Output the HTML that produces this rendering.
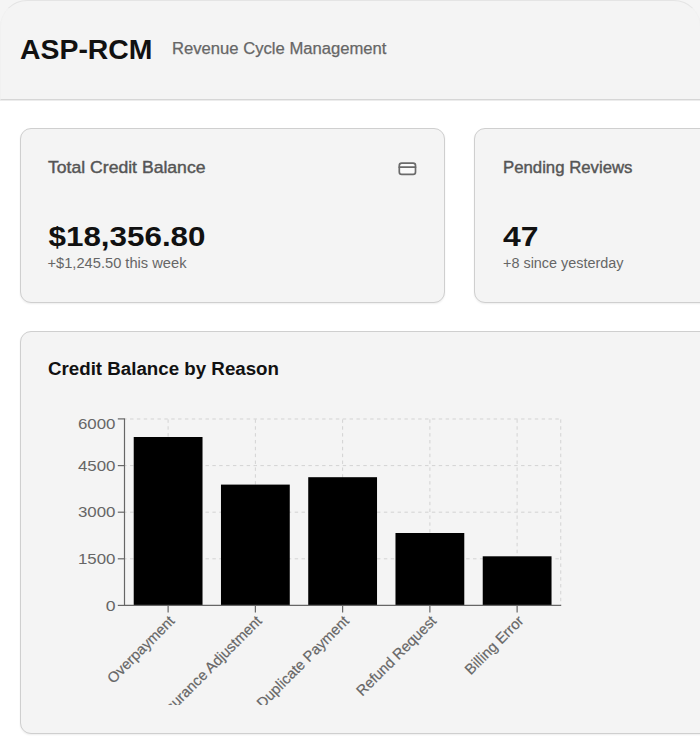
<!DOCTYPE html>
<html>
<head>
<meta charset="utf-8">
<style>
html,body{margin:0;padding:0;}
body{width:700px;height:743px;overflow:hidden;background:#ffffff;position:relative;font-family:"Liberation Sans",sans-serif;}
.topbg{position:absolute;left:0;top:0;width:700px;height:99px;background:#f5f5f5;}
.header{position:absolute;left:0;top:0;width:701px;height:100px;box-sizing:border-box;background:#f4f4f4;border-top:1px solid #e4e4e4;border-left:1px solid #f1f1f1;border-right:1px solid #f1f1f1;border-bottom:1px solid #d6d6d6;border-radius:27px 27px 0 0;box-shadow:0 1px 0 #ececec;}
.card{position:absolute;box-sizing:border-box;background:#f4f4f4;border:1px solid #cfcfcf;border-radius:11px;box-shadow:0 1px 2px rgba(0,0,0,0.07);}
svg{position:absolute;left:0;top:0;}
</style>
</head>
<body>
<div class="topbg"></div><div class="header"></div>
<div class="card" style="left:20px;top:128px;width:425px;height:175px;"></div>
<div class="card" style="left:474px;top:128px;width:425px;height:175px;"></div>
<div class="card" style="left:20px;top:331px;width:900px;height:403px;"></div>
<svg width="700" height="743" viewBox="0 0 700 743" font-family="Liberation Sans">
  <defs><clipPath id="cp"><rect x="0" y="0" width="700" height="705"/></clipPath></defs>
  <text id="title" x="20.0" y="59.2" font-size="27.5" font-weight="bold" fill="#111" text-anchor="start" textLength="132.5" lengthAdjust="spacingAndGlyphs">ASP-RCM</text><text id="sub" x="172.0" y="54.0" font-size="16" font-weight="normal" fill="#666" stroke="#666" stroke-width="0.25" text-anchor="start" textLength="214.5" lengthAdjust="spacingAndGlyphs">Revenue Cycle Management</text><text id="l1" x="48.0" y="172.5" font-size="16.3" font-weight="normal" fill="#555" stroke="#555" stroke-width="0.4" text-anchor="start" textLength="157.5" lengthAdjust="spacingAndGlyphs">Total Credit Balance</text><text id="l2" x="503.0" y="172.8" font-size="16.3" font-weight="normal" fill="#555" stroke="#555" stroke-width="0.4" text-anchor="start" textLength="129.5" lengthAdjust="spacingAndGlyphs">Pending Reviews</text><text id="v1" x="48.5" y="246.0" font-size="27" font-weight="bold" fill="#111" text-anchor="start" textLength="157" lengthAdjust="spacingAndGlyphs">$18,356.80</text><text id="v2" x="503.0" y="246.0" font-size="27" font-weight="bold" fill="#111" text-anchor="start" textLength="35.5" lengthAdjust="spacingAndGlyphs">47</text><text id="s1" x="47.5" y="268.3" font-size="14" font-weight="normal" fill="#666" text-anchor="start" textLength="139" lengthAdjust="spacingAndGlyphs">+$1,245.50 this week</text><text id="s2" x="503.0" y="268.3" font-size="14" font-weight="normal" fill="#666" text-anchor="start" textLength="120.5" lengthAdjust="spacingAndGlyphs">+8 since yesterday</text><text id="ct" x="48.0" y="375.2" font-size="18" font-weight="bold" fill="#111" text-anchor="start" textLength="231" lengthAdjust="spacingAndGlyphs">Credit Balance by Reason</text>
  <g fill="none" stroke="#6a6a6a" stroke-width="1.7" stroke-linecap="round" stroke-linejoin="round">
    <rect x="399.3" y="163.1" width="16.2" height="11.2" rx="2.4" fill="#fafafa"/>
    <line x1="399.3" y1="167.2" x2="415.5" y2="167.2"/>
  </g>
  <g stroke="#d3d3d3" stroke-width="1" stroke-dasharray="3.43 3.43" fill="none"><g stroke-dashoffset="1.3"><line x1="124.5" y1="419.0" x2="560.75" y2="419.0"/><line x1="124.5" y1="465.6" x2="560.75" y2="465.6"/><line x1="124.5" y1="512.2" x2="560.75" y2="512.2"/><line x1="124.5" y1="558.8" x2="560.75" y2="558.8"/></g><g stroke-dashoffset="-0.4"><line x1="168.12" y1="419" x2="168.12" y2="605.4"/><line x1="255.38" y1="419" x2="255.38" y2="605.4"/><line x1="342.62" y1="419" x2="342.62" y2="605.4"/><line x1="429.88" y1="419" x2="429.88" y2="605.4"/><line x1="517.12" y1="419" x2="517.12" y2="605.4"/><line x1="560.75" y1="419" x2="560.75" y2="605.4"/></g></g>
  <g fill="#000"><rect x="133.72" y="437.0" width="68.8" height="168.40"/><rect x="220.97" y="484.6" width="68.8" height="120.80"/><rect x="308.23" y="477.2" width="68.8" height="128.20"/><rect x="395.48" y="533.0" width="68.8" height="72.40"/><rect x="482.73" y="556.3" width="68.8" height="49.10"/></g>
  <g stroke="#666" stroke-width="1.2" fill="none">
    <line x1="124.5" y1="418.4" x2="124.5" y2="605.4"/>
    <line x1="123.9" y1="605.4" x2="561.2" y2="605.4"/>
    <line x1="117.8" y1="418.9" x2="124.5" y2="418.9"/><line x1="117.8" y1="465.6" x2="124.5" y2="465.6"/><line x1="117.8" y1="512.2" x2="124.5" y2="512.2"/><line x1="117.8" y1="558.8" x2="124.5" y2="558.8"/><line x1="117.8" y1="605.4" x2="124.5" y2="605.4"/><line x1="168.12" y1="605.4" x2="168.12" y2="612.6"/><line x1="255.38" y1="605.4" x2="255.38" y2="612.6"/><line x1="342.62" y1="605.4" x2="342.62" y2="612.6"/><line x1="429.88" y1="605.4" x2="429.88" y2="612.6"/><line x1="517.12" y1="605.4" x2="517.12" y2="612.6"/>
  </g>
  <g><text x="115.5" y="429.0" font-size="15" fill="#666" text-anchor="end" textLength="37.5" lengthAdjust="spacingAndGlyphs">6000</text><text x="115.5" y="470.6" font-size="15" fill="#666" text-anchor="end" textLength="37.5" lengthAdjust="spacingAndGlyphs">4500</text><text x="115.5" y="517.3" font-size="15" fill="#666" text-anchor="end" textLength="37.5" lengthAdjust="spacingAndGlyphs">3000</text><text x="115.5" y="564.0" font-size="15" fill="#666" text-anchor="end" textLength="37.5" lengthAdjust="spacingAndGlyphs">1500</text><text x="115.5" y="611.0" font-size="15" fill="#666" text-anchor="end" textLength="9.8" lengthAdjust="spacingAndGlyphs">0</text></g>
  <g clip-path="url(#cp)"><text x="168.12" y="614.4" transform="rotate(-45 168.12 614.4)" dy="0.71em" font-size="14.7" fill="#666" stroke="#666" stroke-width="0.2" text-anchor="end">Overpayment</text><text x="255.38" y="614.4" transform="rotate(-45 255.38 614.4)" dy="0.71em" font-size="14.7" fill="#666" stroke="#666" stroke-width="0.2" text-anchor="end">Insurance Adjustment</text><text x="342.62" y="614.4" transform="rotate(-45 342.62 614.4)" dy="0.71em" font-size="14.7" fill="#666" stroke="#666" stroke-width="0.2" text-anchor="end">Duplicate Payment</text><text x="429.88" y="614.4" transform="rotate(-45 429.88 614.4)" dy="0.71em" font-size="14.7" fill="#666" stroke="#666" stroke-width="0.2" text-anchor="end">Refund Request</text><text x="517.12" y="614.4" transform="rotate(-45 517.12 614.4)" dy="0.71em" font-size="14.7" fill="#666" stroke="#666" stroke-width="0.2" text-anchor="end">Billing Error</text></g>
</svg>
</body>
</html>
